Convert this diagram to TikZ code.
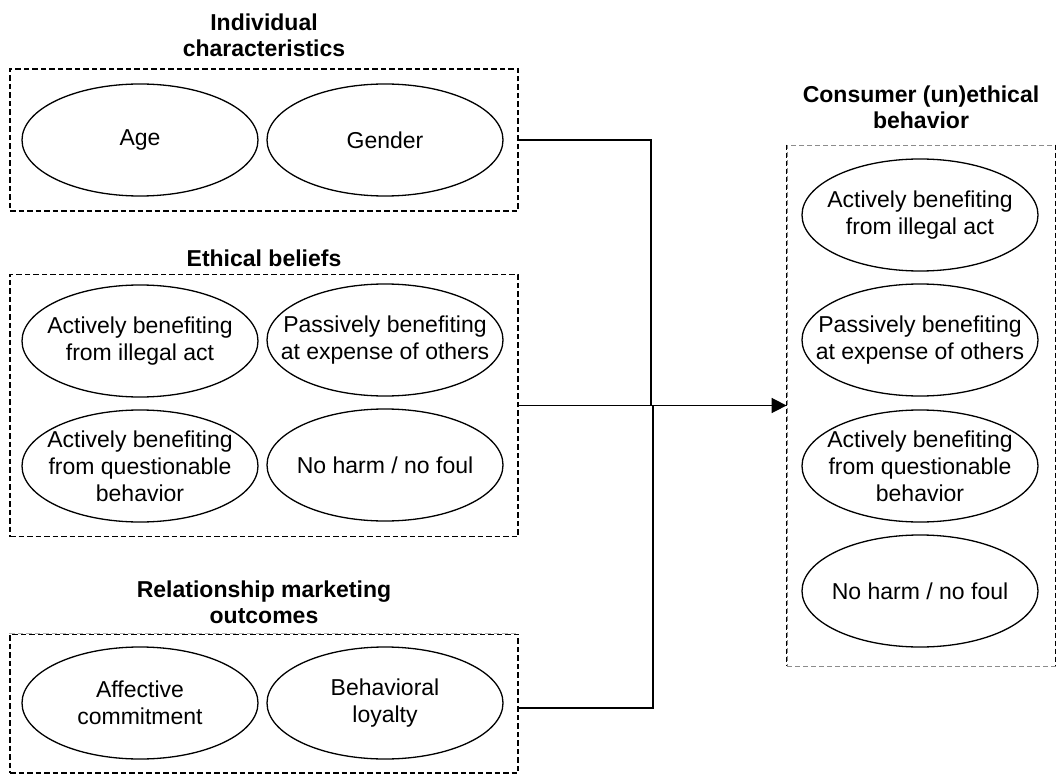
\documentclass[tikz,border=0pt]{standalone}
\usepackage{fontspec}
\setmainfont{Liberation Sans}
\usetikzlibrary{arrows.meta,shapes.geometric}

\begin{document}
\begin{tikzpicture}[x=1pt,y=-1pt,
  oval/.style={ellipse, draw, line width=1.3pt, minimum width=236pt,
    minimum height=112pt, inner sep=0pt},
  lbl/.style={align=center, inner sep=0pt, font=\fontsize{23}{27}\selectfont},
  ttl/.style={align=center, inner sep=0pt, font=\fontsize{23}{26}\selectfont\bfseries},
  grp/.style={rectangle, draw, line width=1.4pt, dash pattern=on 5.5pt off 3pt,
    inner sep=0pt, minimum width=508pt},
  outgrp/.style={rectangle, draw=black!45, line width=0.8pt,
    dash pattern=on 5pt off 3pt, inner sep=0pt},
  conn/.style={line width=1.6pt},
  tip/.style={-{Triangle[length=15pt,width=15pt]}}
]
\useasboundingbox (0,0) rectangle (1056,775);

% ---- group titles ----
\node[ttl] (t-ic) at (264,35)  {Individual\\characteristics};
\node[ttl] (t-eb) at (264,258) {Ethical beliefs};
\node[ttl] (t-rm) at (264,602) {Relationship marketing\\outcomes};
\node[ttl] (t-cb) at (921,107) {Consumer (un)ethical\\behavior};

% ---- group frames ----
\node[grp, minimum height=142pt] (ic) at (264,140) {};
\node[grp, minimum height=262pt] (eb) at (264,405.5) {};
\node[grp, minimum height=139pt] (rm) at (264,703.5) {};
\draw[white, line width=1.8pt] (rm.north west) -- (rm.north east);
\draw[black!30, line width=1pt, dash pattern=on 5.5pt off 3pt]
  (rm.north west) -- (rm.north east);
\node[outgrp, minimum width=268pt, minimum height=521pt] (cb) at (921,405.5) {};
\draw[line width=0.8pt, dash pattern=on 5pt off 3pt] (cb.north west) -- (cb.south west);
\draw[line width=0.8pt, dash pattern=on 5pt off 3pt] (cb.north east) -- (cb.south east);

% ---- individual characteristics ----
\node[oval, label={[lbl]center:Age}]    (age) at (140,140) {};
\node[oval, label={[lbl]center:Gender}] (gen) at (385,140) {};

% ---- ethical beliefs ----
\node[oval, label={[lbl]center:{Actively benefiting\\from illegal act}}]              (eb1) at (140,341) {};
\node[oval, label={[lbl]center:{Passively benefiting\\at expense of others}}]         (eb2) at (385,340) {};
\node[oval, label={[lbl]center:{Actively benefiting\\from questionable\\behavior}}]   (eb3) at (140,466) {};
\node[oval, label={[lbl]center:{No harm / no foul}}]                                 (eb4) at (385,465) {};

% ---- relationship marketing outcomes ----
\node[oval, label={[lbl]center:{Affective\\commitment}}] (rm1) at (140,703) {};
\node[oval, label={[lbl]center:{Behavioral\\loyalty}}]   (rm2) at (385,703) {};

% ---- consumer (un)ethical behavior ----
\node[oval, label={[lbl]center:{Actively benefiting\\from illegal act}}]              (cb1) at (920,215) {};
\node[oval, label={[lbl]center:{Passively benefiting\\at expense of others}}]         (cb2) at (920,340) {};
\node[oval, label={[lbl]center:{Actively benefiting\\from questionable\\behavior}}]   (cb3) at (920,466) {};
\node[oval, label={[lbl]center:{No harm / no foul}}]                                 (cb4) at (920,591) {};

% ---- connectors ----
\coordinate (jt) at (651,405.5);
\coordinate (jb) at (653,405.5);
\draw[conn] (ic.east) -| (jt);
\draw[conn] ([yshift=-4.5pt]rm.east) -| (jb);
\draw[conn, tip] (eb.east) -- (cb.west);
\end{tikzpicture}
\end{document}
